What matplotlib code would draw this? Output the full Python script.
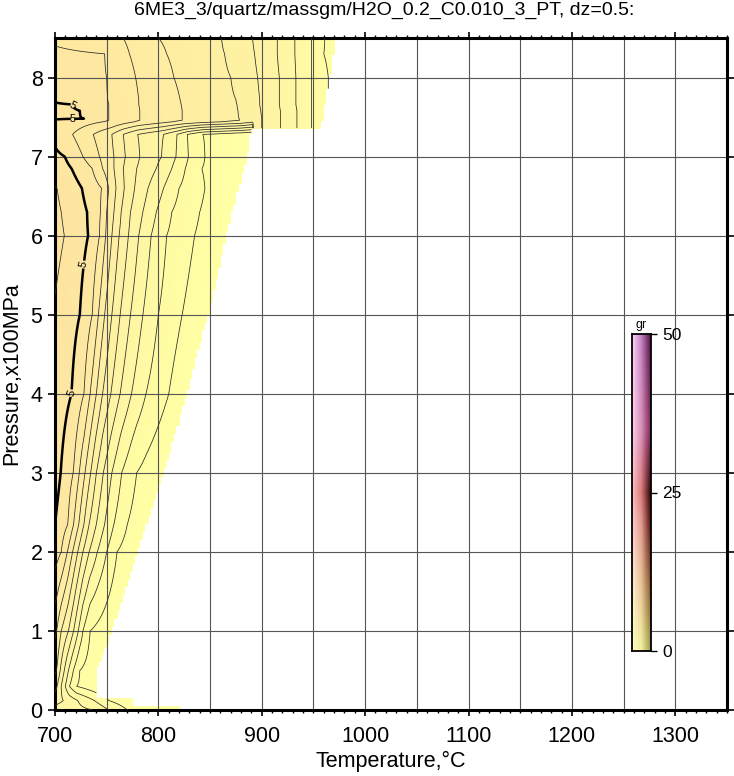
import numpy as np
import matplotlib
matplotlib.use('Agg')
import matplotlib.pyplot as plt
from matplotlib.colors import LinearSegmentedColormap

plt.rcParams['font.family'] = ['Liberation Sans', 'DejaVu Sans']

title = '6ME3_3/quartz/massgm/H2O_0.2_C0.010_3_PT, dz=0.5:'

# pressure rows (x100 MPa) with contour crossings
p_rows = [0.0, 0.12, 0.3, 0.5, 1.0, 2.0, 2.35, 3.0, 4.0, 5.0, 6.0, 6.3, 6.6, 6.85, 7.0, 7.28,
          7.45, 7.48, 7.58, 7.66, 7.72, 8.0, 8.3, 8.5]
row_t = [
    [700, 737, 752, 770, 821],
    [700, 708, 722, 738, 752, 775],
    [700, 702, 706, 710, 714, 721, 742],
    [700, 701.6, 705, 709, 713, 717.7, 724, 745],
    [700, 701.6, 706, 713, 718, 722.5, 727, 734, 757],
    [700, 706, 712, 717, 722, 727, 733, 741, 750, 760, 782],
    [700, 712.5, 718, 723, 728, 733, 740, 748, 757, 770, 791],
    [700, 705.5, 717.7, 723.5, 729, 734.5, 740, 746.7, 755, 764.5, 779, 807],
    [700, 716, 728, 734, 740, 746, 754, 763, 774, 788, 810, 829],
    [700, 724, 736, 742, 748, 755, 763, 773, 785, 800, 823, 850],
    [700, 709, 732, 743, 749, 755, 762, 771, 781, 793, 808, 835, 867],
    [700, 706, 731, 744, 750, 757, 764, 773, 785, 798, 813, 840, 872],
    [700, 702, 726, 745, 752, 759, 767, 777, 790, 805, 820, 845, 878],
    [700, 716, 736, 746, 757, 766, 779, 798, 813, 826, 842, 883],
    [700, 709.5, 727, 743, 757, 768, 782, 803, 817, 829, 845, 887],
    [700, 717, 737, 755, 766, 780, 805, 818, 828, 843, 891, 892, 900, 918, 934, 948, 959],
    [700, 752, 782, 823, 879, 900, 918, 934, 948, 959],
    [700, 728, 752, 782, 823, 878, 900, 918, 934, 948, 960],
    [700, 724, 752, 782, 823, 877, 899, 918, 934, 948, 962],
    [700, 716, 752, 781, 822, 876, 898, 917, 933, 948, 962],
    [700, 751, 781, 821, 875, 898, 917, 933, 948, 963],
    [700, 750, 778, 815, 870, 896, 917, 933, 948, 966],
    [700, 748, 772, 808, 864, 893, 915, 932, 948, 960, 971],
    [700, 766, 800, 861, 891, 915, 932, 948, 961, 973],
]
row_z = [
    [1.8, 1.5, 1.0, 0.5, 0.05],
    [2.2, 2.0, 1.5, 1.0, 0.5, 0.1],
    [2.7, 2.5, 2.0, 1.5, 1.0, 0.5, 0.1],
    [3.1, 3.0, 2.5, 2.0, 1.5, 1.0, 0.5, 0.1],
    [3.6, 3.5, 3.0, 2.5, 2.0, 1.5, 1.0, 0.5, 0.1],
    [4.75, 4.5, 4.0, 3.5, 3.0, 2.5, 2.0, 1.5, 1.0, 0.5, 0.05],
    [5.0, 4.5, 4.0, 3.5, 3.0, 2.5, 2.0, 1.5, 1.0, 0.5, 0.05],
    [5.22, 5.0, 4.5, 4.0, 3.5, 3.0, 2.5, 2.0, 1.5, 1.0, 0.5, 0.05],
    [5.3, 5.0, 4.5, 4.0, 3.5, 3.0, 2.5, 2.0, 1.5, 1.0, 0.5, 0.05],
    [5.45, 5.0, 4.5, 4.0, 3.5, 3.0, 2.5, 2.0, 1.5, 1.0, 0.5, 0.05],
    [5.65, 5.5, 5.0, 4.5, 4.0, 3.5, 3.0, 2.5, 2.0, 1.5, 1.0, 0.5, 0.05],
    [5.6, 5.5, 5.0, 4.5, 4.0, 3.5, 3.0, 2.5, 2.0, 1.5, 1.0, 0.5, 0.05],
    [5.52, 5.5, 5.0, 4.5, 4.0, 3.5, 3.0, 2.5, 2.0, 1.5, 1.0, 0.5, 0.05],
    [5.3, 5.0, 4.5, 4.0, 3.5, 3.0, 2.5, 2.0, 1.5, 1.0, 0.5, 0.05],
    [5.08, 5.0, 4.5, 4.0, 3.5, 3.0, 2.5, 2.0, 1.5, 1.0, 0.5, 0.05],
    [4.9, 4.5, 4.0, 3.5, 3.0, 2.5, 2.0, 1.5, 1.0, 0.5, 0.05, 2.7, 2.5, 2.0, 1.5, 1.0, 0.6],
    [4.93, 4.5, 4.0, 3.5, 3.0, 2.5, 2.0, 1.5, 1.0, 0.6],
    [5.04, 5.0, 4.5, 4.0, 3.5, 3.0, 2.5, 2.0, 1.5, 1.0, 0.58],
    [5.12, 5.0, 4.5, 4.0, 3.5, 3.0, 2.5, 2.0, 1.5, 1.0, 0.55],
    [5.04, 5.0, 4.5, 4.0, 3.5, 3.0, 2.5, 2.0, 1.5, 1.0, 0.52],
    [4.95, 4.5, 4.0, 3.5, 3.0, 2.5, 2.0, 1.5, 1.0, 0.5],
    [4.9, 4.5, 4.0, 3.5, 3.0, 2.5, 2.0, 1.5, 1.0, 0.45],
    [4.6, 4.5, 4.0, 3.5, 3.0, 2.5, 2.0, 1.5, 1.0, 0.5, 0.3],
    [4.4, 4.0, 3.5, 3.0, 2.5, 2.0, 1.5, 1.0, 0.5, 0.3],
]

# right edge of the computed area
edge_p = [0.0, 0.04, 0.04, 0.13, 0.13, 0.45, 0.8, 1.0, 2.0, 3.0, 4.0, 5.0, 6.0, 7.0, 7.34, 7.34, 8.5]
edge_t = [821, 821, 775, 775, 741, 741, 751, 757, 782, 807, 829, 850, 867, 887, 891, 959, 973]

thin_levels = [0.5, 1.0, 1.5, 2.0, 2.5, 3.0, 3.5, 4.0, 4.5, 5.5]
bold_levels = [5.0]

# build grid
T = np.arange(700, 976, 1.0)
P = np.arange(0, 8.501, 0.02)
prof = np.array([np.interp(T, row_t[i], row_z[i]) for i in range(len(p_rows))])
Z = np.zeros((len(P), len(T)))
for j in range(len(T)):
    Z[:, j] = np.interp(P, p_rows, prof[:, j])
Pq = np.floor(P / 0.05) * 0.05
edge = np.interp(Pq, edge_p, edge_t)
mask = T[None, :] > np.floor(edge[:, None] / 2.5) * 2.5
Zm = np.ma.masked_array(Z, mask)

field_cmap = LinearSegmentedColormap.from_list('fld', [
    (0.0, '#ffffa4'), (0.12, '#fde1a0'), (0.24, '#fbc898'),
    (0.5, '#f08a8a'), (0.74, '#eb9ccc'), (1.0, '#c878c8')])

fig = plt.figure(figsize=(7.34, 7.76), dpi=100)
ax = fig.add_axes([55/734, 66/776, 672/734, 672/776])

ax.pcolormesh(T, P, Zm, cmap=field_cmap, vmin=0, vmax=50, shading='nearest', zorder=1)
ax.contour(T, P, Zm, levels=thin_levels, colors='#2a2a2a', linewidths=0.55, zorder=3)
cs = ax.contour(T, P, Zm, levels=bold_levels, colors='k', linewidths=1.8, zorder=3)
ax.clabel(cs, fmt='%g', fontsize=8, inline=True, inline_spacing=1,
          manual=[(732, 5.6), (717, 4.0), (717, 7.66), (717, 7.47)])

ax.set_xlim(700, 1350)
ax.set_ylim(0, 8.5)
ax.set_xticks(np.arange(700, 1301, 100))
ax.set_xticks(np.arange(700, 1351, 10), minor=True)
ax.set_yticks(np.arange(0, 9, 1))
for gx in np.arange(750, 1350, 50):
    ax.axvline(gx, color='#555555', lw=0.8, zorder=2)
for gy in np.arange(1, 9, 1):
    ax.axhline(gy, color='#555555', lw=0.8, zorder=2)

ax.tick_params(axis='x', which='major', direction='out', length=4.5, width=1.2,
               top=True, labeltop=False, labelsize=15.5, pad=7)
ax.tick_params(axis='x', which='minor', direction='out', length=2.5, width=1.0, top=True)
ax.tick_params(axis='y', which='major', direction='out', length=5, width=1.2,
               right=True, labelright=False, labelsize=15.5, pad=4)
for s in ax.spines.values():
    s.set_linewidth(2.2)

ax.set_xlabel('Temperature,°C', fontsize=15.5, labelpad=3)
ax.set_ylabel('Pressure,x100MPa', fontsize=15.5, labelpad=6)
fig.text(384/734, 1 - 10/776, title, ha='center', va='center', fontsize=14)

# colour scale (shaded like the original)
cb_vals = np.linspace(0, 50, 256)
light = LinearSegmentedColormap.from_list('lt', [
    (0.0, '#ffffbc'), (0.2, '#fff0d0'), (0.4, '#ffcccc'), (0.5, '#ffbebe'),
    (0.7, '#ffd0ec'), (1.0, '#ffd4fc')])
mid = LinearSegmentedColormap.from_list('md', [
    (0.0, '#f0f0a0'), (0.2, '#e8c498'), (0.4, '#e09a90'), (0.5, '#d87878'),
    (0.7, '#d890b8'), (1.0, '#c080c0')])
dark = LinearSegmentedColormap.from_list('dk', [
    (0.0, '#a0a050'), (0.2, '#8a5a28'), (0.4, '#581010'), (0.5, '#300000'),
    (0.7, '#802858'), (1.0, '#501040')])
u = np.linspace(0, 1, 40)
lc = light(cb_vals / 50)[:, :3]
mc = mid(cb_vals / 50)[:, :3]
dc = dark(cb_vals / 50)[:, :3]
w1 = np.clip(u * 2, 0, 1)[None, :, None]
w2 = np.clip(u * 2 - 1, 0, 1)[None, :, None]
img = np.where(u[None, :, None] < 0.5,
               lc[:, None, :] + (mc - lc)[:, None, :] * w1,
               mc[:, None, :] + (dc - mc)[:, None, :] * w2)

cax = fig.add_axes([632/734, (776 - 651)/776, 19/734, 317/776])
cax.imshow(img, origin='lower', extent=[0, 1, 0, 50], aspect='auto')
cax.set_xticks([])
cax.yaxis.tick_right()
cax.set_yticks([0, 25, 50])
cax.tick_params(axis='y', length=4, width=1, labelsize=12.5, pad=4)
for s in cax.spines.values():
    s.set_linewidth(1.3)
cax.text(0.5, 1.01, 'gr', transform=cax.transAxes, ha='center', va='bottom', fontsize=9)

fig.savefig('out.png', dpi=100)
